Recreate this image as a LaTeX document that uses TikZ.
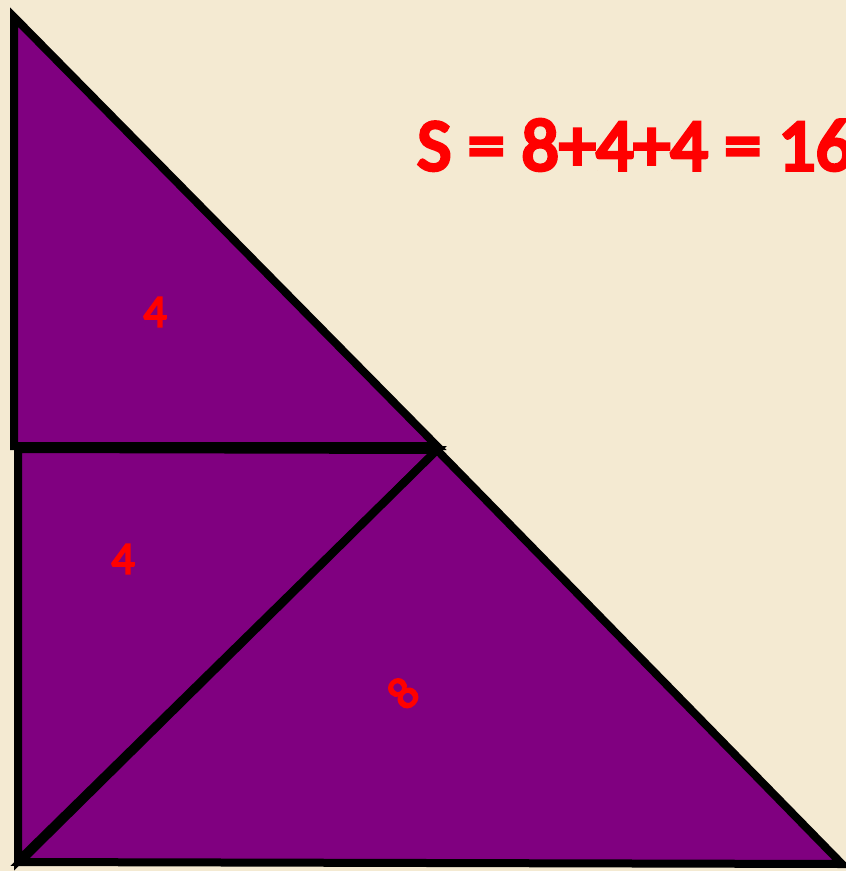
\documentclass[tikz,border=0pt]{standalone}
\usepackage{fontspec}
\setmainfont{Carlito}
\newfontfamily\heavy{Carlito}[FakeBold=5]
\newfontfamily\heavylbl{Carlito}[FakeBold=4]
\definecolor{parch}{HTML}{F4EAD2}
\definecolor{tri}{HTML}{800080}
\definecolor{lab}{HTML}{FF0000}
\begin{document}
\begin{tikzpicture}[x=1pt,y=-1pt,
  piece/.style={fill=tri,draw=black,line width=8pt,line join=miter,miter limit=10},
  lbl/.style={text=lab,font=\heavylbl\fontsize{46}{46}\selectfont,inner sep=0pt}]
\fill[parch] (0,0) rectangle (846,871);
\useasboundingbox (0,0) rectangle (846,871);
\begin{scope}
\clip (0,0) rectangle (846,871);
\coordinate (A) at (14,17);
\coordinate (B) at (14,446);
\coordinate (C) at (437,446);
\coordinate (D) at (18,449);
\coordinate (E) at (18,861);
\coordinate (F) at (437,450);
\coordinate (G) at (842,864);
\coordinate (H) at (20,862);
\draw[piece] (D) -- (E) -- (F) -- cycle;
\draw[piece] (F) -- (H) -- (G) -- cycle;
\draw[piece] (A) -- (B) -- (C) -- cycle;
\node[lbl] (l1) at (155,312) {4};
\node[lbl] (l2) at (123,559) {4};
\node[lbl,rotate=45] (l3) at (403,693) {8};
\node[anchor=base west,inner sep=0pt,text=lab,font=\heavy\fontsize{74}{74}\selectfont] (t) at (417,170) {S = 8+4+4 = 16};
\end{scope}
\end{tikzpicture}
\end{document}
